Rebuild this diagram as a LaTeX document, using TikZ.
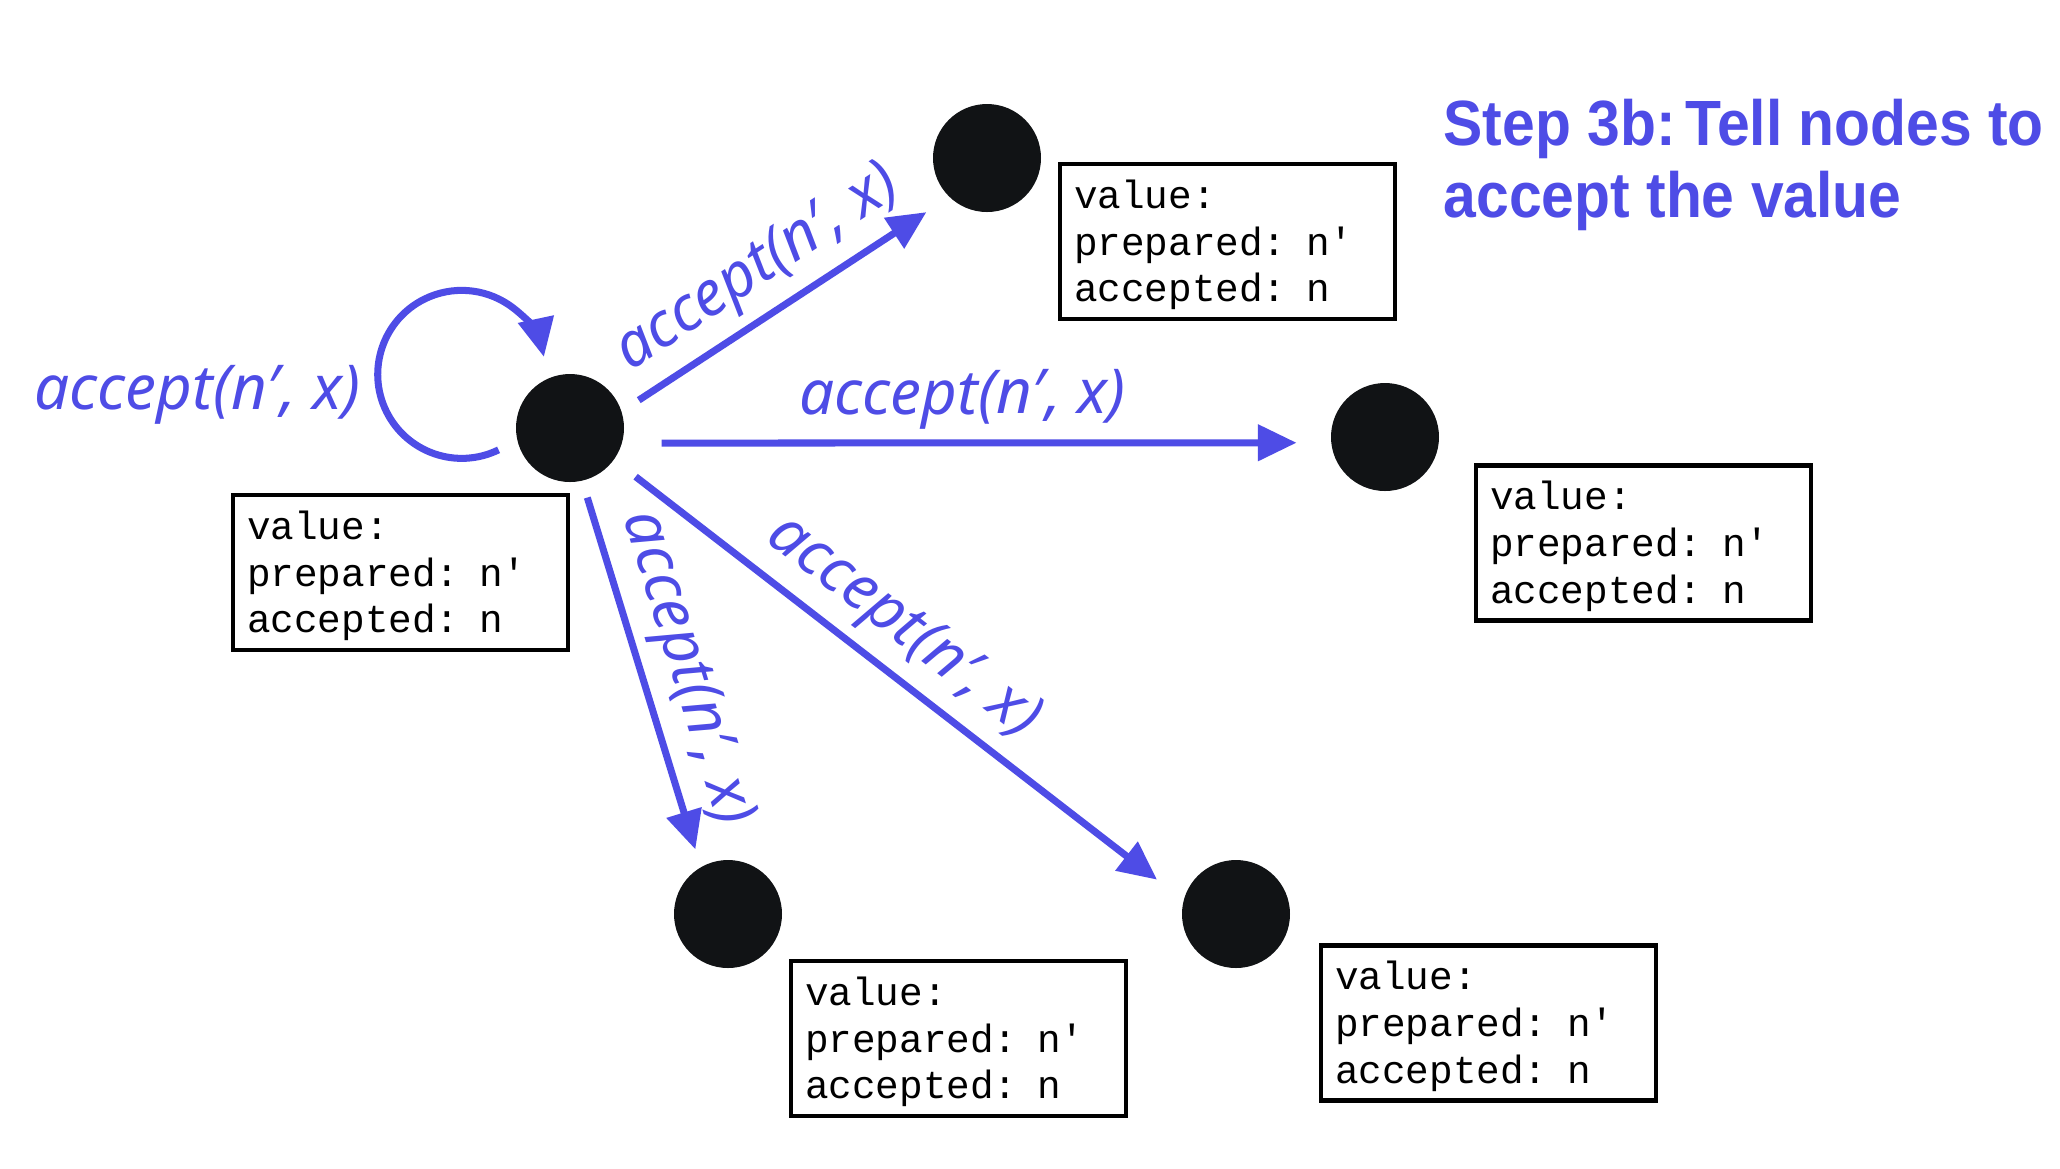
\documentclass[tikz,border=0pt]{standalone}
\usepackage{fontspec}
\usepackage{tikz}
\usetikzlibrary{arrows.meta}
\setmainfont{Liberation Sans}
\newfontfamily\titlefont[FakeStretch=0.92]{Liberation Sans}
\newfontfamily\labelfont{Noto Sans}
\newfontfamily\recordfont{Liberation Mono}
\definecolor{accblue}{RGB}{78,76,230}
\definecolor{dotblack}{RGB}{17,19,21}
\tikzstyle{vertex}=[circle,fill=dotblack,minimum size=1.08cm,inner sep=0pt]
\tikzstyle{record}=[draw,line width=1.2pt,rectangle,minimum width=3.35cm,minimum height=1.55cm,text width=3.07cm,inner xsep=0.1cm,inner ysep=1pt,align=left,font=\recordfont\fontsize{11.2}{13.3}\selectfont]
\tikzstyle{edge}=[draw,accblue,line width=2pt,-{Triangle[length=11pt,width=10pt]}]
\tikzstyle{edge label}=[text=accblue,font=\labelfont\itshape\fontsize{17.6}{20}\selectfont,inner sep=3pt]

\begin{document}
\begin{tikzpicture}
    \useasboundingbox[fill=white] (0,0) rectangle (20.6,-11.68);
    % First we draw the vertices
    \foreach \pos/\name in {{(5.70,-4.28)/p}, {(9.87,-1.58)/a1}, {(13.85,-4.37)/a2}, {(7.28,-9.14)/a3}, {(12.36,-9.14)/a4}}
        \node[vertex] (\name) at \pos {};

    % Each vertex keeps its state in a box
    \foreach \pos/\name in {{(4.005,-5.725)/p}, {(12.275,-2.415)/a1}, {(16.435,-5.43)/a2}, {(9.585,-10.385)/a3}, {(14.885,-10.23)/a4}}
        \node[record] (\name-state) at \pos {\rule{0pt}{10pt}value:\\prepared: n′\\accepted: n};

    % Send accept to the other vertices
    \foreach \source/\dest/\s/\e/\p in {p.18/a1.226/0.2/0.27/0.49, p.-16/a2.186/0.39/0.34/0.48, p.-77/a3.120/0.17/0.18/0.52, p.-36/a4.165/0.27/0.33/0.46}
        \path[edge,shorten <=\s cm,shorten >=\e cm] (\source) -- node[edge label,sloped,above,pos=\p] {accept(n′, x)} (\dest);

    % and to itself
    \path[edge] ([shift={(197:0.2)}]p.197) arc[start angle=-64,end angle=-348,radius=0.84];
    \node[edge label,anchor=base east,inner sep=0pt] (loop-label) at ([shift={(-2.09,0.19)}]p.center) {accept(n′, x)};

    \node[text=accblue,font=\titlefont\bfseries\fontsize{18.2}{20.5}\selectfont,align=left,anchor=north west,inner sep=0pt] (title) at (14.43,-0.98) {Step 3b:\hspace{-3.5pt} Tell nodes to\\accept the value};
\end{tikzpicture}
\end{document}
